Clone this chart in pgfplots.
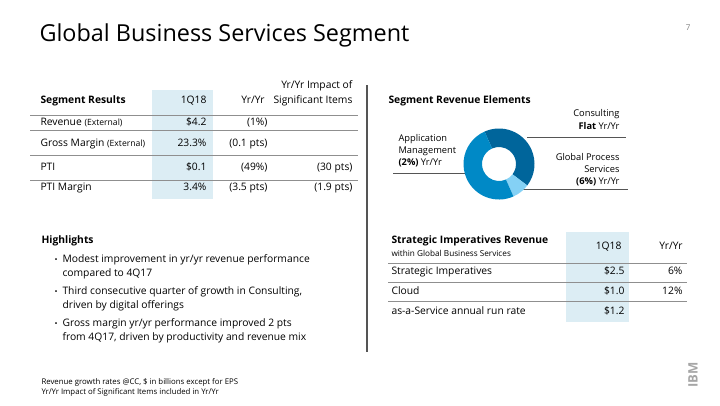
\documentclass[border=0pt]{standalone}
\usepackage{pgfplots}
\pgfplotsset{compat=1.18}
\usepackage{pgfplotstable}
\usepackage{fontspec}
\setmainfont{Open Sans}
\definecolor{ibmtext}{HTML}{1A1A1A}
\definecolor{colblue}{HTML}{DCEDF4}
\definecolor{dkblue}{HTML}{00659B}
\definecolor{mdblue}{HTML}{0089C6}
\definecolor{ltblue}{HTML}{84D1F5}
\definecolor{rulegray}{HTML}{8F8F8F}
\definecolor{divgray}{HTML}{555555}

\pgfplotstableread{
seg share
Consulting 42
GPS 8
AppMgmt 50
}\donutdata

\newcommand{\body}{\fontsize{10.3}{12}\selectfont}
\newcommand{\smallt}{\fontsize{8.6}{10}\selectfont}
\newcommand{\lbl}{\fontsize{9.3}{11}\selectfont}
\newcommand{\foot}{\fontsize{7.8}{9.5}\selectfont}
\newcommand{\sub}{\fontsize{8.2}{9.5}\selectfont}

\begin{document}
\begin{tikzpicture}
\pgfplotstablegetelem{0}{share}\of\donutdata
\pgfmathsetmacro\aS{114}
\pgfmathsetmacro\aA{\aS-3.6*\pgfplotsretval}
\pgfplotstablegetelem{1}{share}\of\donutdata
\pgfmathsetmacro\aB{\aA-3.6*\pgfplotsretval}
\pgfplotstablegetelem{2}{share}\of\donutdata
\pgfmathsetmacro\aC{\aB-3.6*\pgfplotsretval}
\begin{axis}[width=720pt,height=405pt,scale only axis,
  xmin=0,xmax=720,ymin=0,ymax=405,y dir=reverse,hide axis,clip=false,
  every node/.append style={text=ibmtext,inner sep=0pt}]
% background
\addplot[fill=white,draw=none] coordinates {(0,0)(720,0)(720,405)(0,405)};
% highlight columns
\addplot[fill=colblue,draw=none] coordinates {(152,90)(213,90)(213,199)(152,199)};
\addplot[fill=colblue,draw=none] coordinates {(566,232)(629,232)(629,322)(566,322)};
% rules left table
\addplot[rulegray,line width=0.9pt] coordinates {(30,115)(358,115)};
\addplot[rulegray,line width=0.9pt] coordinates {(30,130.5)(358,130.5)};
\addplot[rulegray,line width=0.9pt] coordinates {(30,155.5)(358,155.5)};
\addplot[rulegray,line width=0.9pt] coordinates {(30,180.5)(358,180.5)};
% rules right table
\addplot[rulegray,line width=0.9pt] coordinates {(388,263)(687,263)};
\addplot[rulegray,line width=0.9pt] coordinates {(388,282)(687,282)};
\addplot[rulegray,line width=0.9pt] coordinates {(388,301)(687,301)};
% divider
\addplot[divgray,line width=1.6pt] coordinates {(367,85)(367,352)};
% donut leader lines
\addplot[divgray,line width=0.9pt] coordinates {(527,137)(626,137)};
\addplot[divgray,line width=0.9pt] coordinates {(393,173)(467,173)};
\addplot[divgray,line width=0.9pt] coordinates {(520,189)(628,189)};
% donut
\coordinate (c) at (axis cs:499,164);
\fill[dkblue] ([shift={(\aS:35.5pt)}]c) arc[start angle=\aS,end angle=\aA,radius=35.5pt]
  -- ([shift={(\aA:17pt)}]c) arc[start angle=\aA,end angle=\aS,radius=17pt] -- cycle;
\fill[ltblue] ([shift={(\aA:35.5pt)}]c) arc[start angle=\aA,end angle=\aB,radius=35.5pt]
  -- ([shift={(\aB:17pt)}]c) arc[start angle=\aB,end angle=\aA,radius=17pt] -- cycle;
\fill[mdblue] ([shift={(\aB:35.5pt)}]c) arc[start angle=\aB,end angle=\aC,radius=35.5pt]
  -- ([shift={(\aC:17pt)}]c) arc[start angle=\aC,end angle=\aB,radius=17pt] -- cycle;

% title
\node[anchor=base west,font=\fontsize{23.4}{26}\selectfont,text=black] at (axis cs:36,41) {Global Business Services Segment};
\node[anchor=base east,font=\fontsize{8}{9}\selectfont,text=gray] at (axis cs:694,30) {7};

% left table header
\node[anchor=mid west,font=\body\bfseries] at (axis cs:37,101) {Segment Results};
\node[anchor=mid east,font=\body] at (axis cs:210,101) {1Q18};
\node[anchor=mid east,font=\body] at (axis cs:268,101) {Yr/Yr};
\node[anchor=mid east,font=\body] at (axis cs:356,86) {Yr/Yr Impact of};
\node[anchor=mid east,font=\body] at (axis cs:356,101) {Significant Items};
% rows
\node[anchor=mid west,font=\body] at (axis cs:37,122.5) {Revenue {\smallt(External)}};
\node[anchor=mid east,font=\body] at (axis cs:210,122.5) {\$4.2};
\node[anchor=mid east,font=\body] at (axis cs:271,122.5) {(1\%)};
\node[anchor=mid west,font=\body] at (axis cs:37,143.5) {Gross Margin {\smallt(External)}};
\node[anchor=mid east,font=\body] at (axis cs:210,143.5) {23.3\%};
\node[anchor=mid east,font=\body] at (axis cs:271,143.5) {(0.1 pts)};
\node[anchor=mid west,font=\body] at (axis cs:37,168) {PTI};
\node[anchor=mid east,font=\body] at (axis cs:210,168) {\$0.1};
\node[anchor=mid east,font=\body] at (axis cs:271,168) {(49\%)};
\node[anchor=mid east,font=\body] at (axis cs:356,168) {(30 pts)};
\node[anchor=mid west,font=\body] at (axis cs:37,188) {PTI Margin};
\node[anchor=mid east,font=\body] at (axis cs:210,188) {3.4\%};
\node[anchor=mid east,font=\body] at (axis cs:271,188) {(3.5 pts)};
\node[anchor=mid east,font=\body] at (axis cs:356,188) {(1.9 pts)};

% segment revenue elements
\node[anchor=mid west,font=\body\bfseries] at (axis cs:385,101) {Segment Revenue Elements};
\node[anchor=mid east,font=\lbl] at (axis cs:623,114) {Consulting};
\node[anchor=mid east,font=\lbl] at (axis cs:623,127) {\textbf{Flat} Yr/Yr};
\node[anchor=mid west,font=\lbl] at (axis cs:395,139) {Application};
\node[anchor=mid west,font=\lbl] at (axis cs:395,151) {Management};
\node[anchor=mid west,font=\lbl] at (axis cs:395,163) {\textbf{(2\%)} Yr/Yr};
\node[anchor=mid east,font=\lbl] at (axis cs:623,158) {Global Process};
\node[anchor=mid east,font=\lbl] at (axis cs:623,170) {Services};
\node[anchor=mid east,font=\lbl] at (axis cs:623,182) {\textbf{(6\%)} Yr/Yr};

% strategic imperatives table
\node[anchor=mid west,font=\body\bfseries] at (axis cs:388,241) {Strategic Imperatives Revenue};
\node[anchor=mid west,font=\sub] at (axis cs:388,254) {within Global Business Services};
\node[anchor=mid east,font=\body] at (axis cs:625,247) {1Q18};
\node[anchor=mid east,font=\body] at (axis cs:686,247) {Yr/Yr};
\node[anchor=mid west,font=\body] at (axis cs:388,272) {Strategic Imperatives};
\node[anchor=mid east,font=\body] at (axis cs:628,272) {\$2.5};
\node[anchor=mid east,font=\body] at (axis cs:686,272) {6\%};
\node[anchor=mid west,font=\body] at (axis cs:388,292) {Cloud};
\node[anchor=mid east,font=\body] at (axis cs:628,292) {\$1.0};
\node[anchor=mid east,font=\body] at (axis cs:686,292) {12\%};
\node[anchor=mid west,font=\body] at (axis cs:388,312) {as-a-Service annual run rate};
\node[anchor=mid east,font=\body] at (axis cs:628,312) {\$1.2};

% highlights
\node[anchor=mid west,font=\body\bfseries] at (axis cs:38,241) {Highlights};
\node[anchor=mid west,font=\fontsize{8}{9}\selectfont] at (axis cs:51,260) {\textbullet};
\node[anchor=mid west,font=\body] at (axis cs:59,260) {Modest improvement in yr/yr revenue performance};
\node[anchor=mid west,font=\body] at (axis cs:59,274) {compared to 4Q17};
\node[anchor=mid west,font=\fontsize{8}{9}\selectfont] at (axis cs:51,292) {\textbullet};
\node[anchor=mid west,font=\body] at (axis cs:59,292) {Third consecutive quarter of growth in Consulting,};
\node[anchor=mid west,font=\body] at (axis cs:59,306) {driven by digital offerings};
\node[anchor=mid west,font=\fontsize{8}{9}\selectfont] at (axis cs:51,324) {\textbullet};
\node[anchor=mid west,font=\body] at (axis cs:59,324) {Gross margin yr/yr performance improved 2 pts};
\node[anchor=mid west,font=\body] at (axis cs:59,338) {from 4Q17, driven by productivity and revenue mix};

% footnotes
\node[anchor=mid west,font=\foot] at (axis cs:38,382) {Revenue growth rates @CC, \$ in billions except for EPS};
\node[anchor=mid west,font=\foot] at (axis cs:38,392) {Yr/Yr Impact of Significant Items included in Yr/Yr};

% logo
\node[rotate=90,font=\fontsize{13}{14}\selectfont\bfseries,text=gray!70] at (axis cs:693,375) {IBM};
\end{axis}
\end{tikzpicture}
\end{document}
